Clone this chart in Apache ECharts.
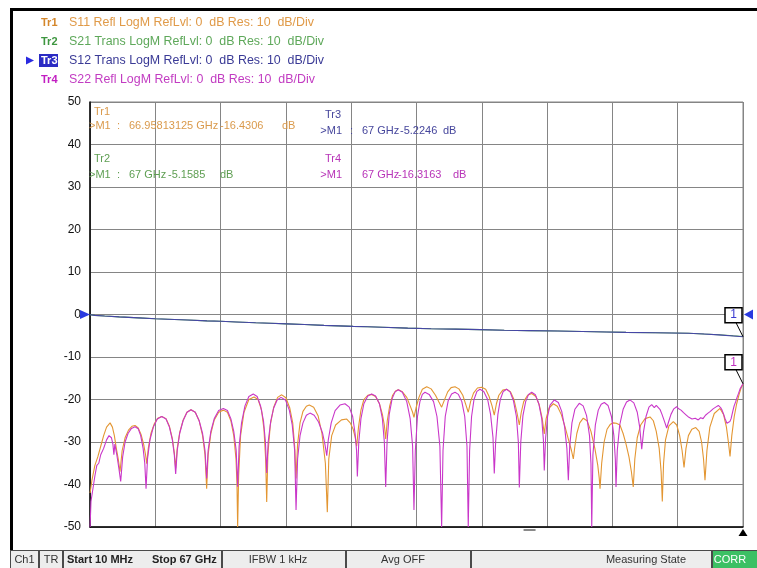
<!DOCTYPE html>
<html><head><meta charset="utf-8">
<script src="https://cdn.jsdelivr.net/npm/echarts@6/dist/echarts.min.js"></script>
<style>html,body{margin:0;padding:0;background:#fff}#c{width:757px;height:568px}</style>
</head><body><div id="c"></div>
<script>
// ---- axis ----
const freqMin = 0, freqMax = 67, freqStep = 6.7;
const dbMin = -50, dbMax = 50, dbStep = 10;

// ---- header lines ----
const traceIds = ['Tr1', 'Tr2', 'Tr3', 'Tr4'];
const traceDesc = [
  'S11 Refl LogM RefLvl: 0  dB Res: 10  dB/Div',
  'S21 Trans LogM RefLvl: 0  dB Res: 10  dB/Div',
  'S12 Trans LogM RefLvl: 0  dB Res: 10  dB/Div',
  'S22 Refl LogM RefLvl: 0  dB Res: 10  dB/Div'
];
// ---- marker readouts ----
const markerFreq = ['66.95813125 GHz', '67 GHz', '67 GHz', '67 GHz'];
const markerVal = ['-16.4306', '-5.1585', '-5.2246', '-16.3163'];
// ---- status bar ----
const statusItems = ['Ch1', 'TR', 'Start 10 MHz', 'Stop 67 GHz', 'IFBW 1 kHz', 'Avg OFF', 'Measuring State', 'CORR'];
const gateFreq = [45.1];

// ---- traces [GHz, dB] ----
const s12 = [[0.01,-0.05],[0.5,-0.2],[1.5,-0.35],[3,-0.55],[5,-0.8],[6.7,-1.0],[8,-1.1],[10,-1.3],[12,-1.5],[13.4,-1.6],[15,-1.75],[17,-1.95],[18.5,-2.05],[20.2,-2.2],[22,-2.35],[24,-2.55],[27,-2.8],[28.5,-2.9],[30,-3.0],[32.6,-3.2],[35,-3.35],[37.5,-3.45],[40,-3.55],[42.5,-3.7],[45,-3.8],[48,-3.9],[50.5,-4.0],[53,-4.1],[55,-4.2],[58,-4.3],[61.4,-4.4],[63,-4.6],[64.5,-4.8],[66,-5.05],[67,-5.22]];
const s21 = [[0.01,-0.05],[0.5,-0.2],[1.5,-0.35],[3,-0.55],[5,-0.8],[6.7,-1.0],[8,-1.1],[10,-1.3],[12,-1.5],[13.4,-1.6],[15,-1.75],[17,-1.95],[18.5,-2.05],[20.2,-2.2],[22,-2.35],[24,-2.55],[27,-2.8],[28.5,-2.9],[30,-3.0],[32.6,-3.2],[35,-3.35],[37.5,-3.45],[40,-3.55],[42.5,-3.7],[45,-3.8],[48,-3.9],[50.5,-4.0],[53,-4.1],[55,-4.2],[58,-4.3],[61.4,-4.4],[63,-4.6],[64.5,-4.75],[66,-5.0],[67,-5.16]];
const s11 = [[0.01,-42],[0.2,-39],[0.5,-35.5],[0.8,-33.5],[1.1,-31],[1.4,-28.5],[1.7,-26.5],[2.06,-25.5],[2.3,-26.5],[2.5,-28.5],[2.7,-31.5],[2.9,-34],[3.08,-37],
[3.3,-32],[3.6,-29],[3.95,-27.2],[4.3,-26.3],[4.62,-26.1],[4.95,-26.7],[5.25,-28.3],[5.5,-30.5],[5.7,-33],[5.82,-35.1],
[5.98,-31.5],[6.25,-28],[6.6,-25.7],[6.95,-24.4],[7.36,-24],[7.8,-24.5],[8.15,-26.3],[8.45,-29.2],[8.65,-32.5],[8.79,-36.2],
[8.95,-31.5],[9.2,-27.8],[9.55,-24.9],[9.95,-23],[10.36,-22.4],[10.8,-23],[11.2,-25],[11.55,-28.5],[11.8,-33],[11.97,-41],
[12.12,-33],[12.4,-28],[12.75,-24.8],[13.2,-23],[13.68,-22.5],[14.1,-23],[14.45,-25],[14.75,-28.5],[14.98,-34],[15.08,-40],[15.15,-50],
[15.25,-38],[15.45,-28.5],[15.8,-23],[16.3,-20],[16.83,-19.4],[17.25,-20],[17.6,-22.5],[17.85,-27],[18.02,-34],[18.13,-44.1],
[18.25,-33],[18.5,-26],[18.85,-21.8],[19.25,-19.5],[19.67,-18.9],[20.1,-19.6],[20.5,-22],[20.8,-25.5],[21.0,-31],[21.14,-38.6],
[21.3,-30.5],[21.55,-25.5],[21.85,-22.8],[22.2,-21.6],[22.5,-21.3],[22.95,-21.8],[23.4,-23.8],[23.8,-28],[24.15,-35],[24.35,-46.5],
[24.5,-34],[24.8,-28.5],[25.2,-26],[25.8,-24.8],[26.34,-24.6],[26.7,-25.5],[27.0,-27],[27.2,-28.8],[27.36,-31],
[27.55,-26.5],[27.8,-22.5],[28.1,-20],[28.5,-19],[28.9,-18.8],[29.3,-19.3],[29.7,-21],[30.0,-23.5],[30.2,-26],[30.34,-29.3],
[30.5,-25],[30.75,-21.5],[31.05,-19],[31.35,-18],[31.63,-17.7],[32.05,-18.2],[32.5,-19.5],[32.85,-21.5],[33.1,-23],[33.24,-24.2],
[33.45,-22],[33.75,-19.5],[34.1,-17.6],[34.55,-17],[35.0,-17.5],[35.45,-19],[35.8,-20.6],[36.08,-21.8],
[36.35,-20.2],[36.7,-18.2],[37.05,-17.2],[37.45,-17],[37.85,-17.5],[38.25,-19],[38.6,-21.5],[38.81,-23],
[39.05,-20.5],[39.35,-18.5],[39.75,-17.3],[40.19,-17.1],[40.6,-17.6],[40.95,-19.3],[41.25,-21.5],[41.48,-23.7],
[41.7,-21],[41.95,-19],[42.35,-17.8],[42.75,-17.6],[43.15,-18.2],[43.5,-20],[43.8,-23],[44.05,-26],
[44.25,-23],[44.5,-20.5],[44.9,-19],[45.32,-18.6],[45.75,-19.3],[46.1,-21.3],[46.4,-24.5],[46.61,-28.1],
[46.8,-24.5],[47.1,-22],[47.54,-21],[47.95,-21.6],[48.35,-23.5],[48.75,-26.5],[49.1,-29.5],[49.4,-32],[49.59,-34],
[49.75,-31],[49.95,-28],[50.25,-25.5],[50.61,-24.4],[51.0,-25],[51.4,-27.5],[51.8,-31.5],[52.1,-35.5],[52.25,-38.5],[52.33,-41],
[52.5,-35],[52.75,-30],[53.05,-27],[53.4,-25.8],[53.69,-25.5],[54.0,-25.6],[54.37,-26],[54.7,-28],[55.0,-30.5],[55.3,-33.5],[55.55,-37],[55.74,-40.6],
[55.9,-34],[56.15,-29],[56.5,-26],[56.95,-24.5],[57.46,-24.1],[57.8,-25],[58.1,-27.5],[58.4,-31.5],[58.6,-37],[58.72,-44],
[58.85,-35],[59.05,-29.5],[59.4,-26.2],[59.85,-25.2],[60.2,-26],[60.5,-28.5],[60.75,-32],[60.95,-36],
[61.15,-31.5],[61.4,-28.5],[61.75,-27],[62.15,-26.6],[62.5,-27.5],[62.75,-30],[62.95,-34],[63.1,-39],
[63.3,-32],[63.6,-26.5],[64.05,-23.3],[64.64,-22.1],[65.0,-23.5],[65.3,-26.5],[65.5,-30],[65.67,-33.4],
[65.85,-28.5],[66.1,-24],[66.35,-21],[66.6,-18.8],[66.8,-17.3],[67,-16.4]];
const s22 = [[0.01,-50],[0.1,-44],[0.3,-41],[0.5,-38],[0.7,-35.5],[0.9,-35],[1.1,-33],[1.4,-31.5],[1.7,-29.5],[1.95,-28.5],[2.2,-29],[2.35,-30.5],[2.45,-33],[2.55,-30.5],[2.75,-33],[2.95,-36],[3.15,-39.3],
[3.35,-33.5],[3.6,-30],[3.9,-28],[4.25,-26.8],[4.62,-26.4],[4.95,-26.9],[5.2,-28.5],[5.45,-31.5],[5.62,-35],[5.75,-41],
[5.9,-34],[6.15,-29.5],[6.5,-26.5],[6.9,-24.6],[7.36,-24],[7.8,-24.6],[8.15,-26.5],[8.45,-29.5],[8.65,-33],[8.79,-37.5],
[8.95,-32],[9.2,-28],[9.55,-25],[9.95,-23],[10.36,-22.4],[10.8,-23],[11.2,-25],[11.55,-28],[11.8,-32],[11.97,-38.6],
[12.12,-32],[12.4,-27.5],[12.75,-24.5],[13.2,-22.6],[13.68,-22.1],[14.1,-22.6],[14.45,-24.5],[14.75,-27.5],[15.0,-32],[15.15,-40.5],
[15.3,-31],[15.55,-25.5],[15.9,-21.5],[16.3,-19.3],[16.75,-18.7],[17.15,-19.3],[17.5,-21.5],[17.8,-25],[18.0,-30],[18.13,-37.3],
[18.28,-30],[18.55,-25],[18.85,-22],[19.2,-20.1],[19.6,-19.5],[20.05,-20.1],[20.45,-22.5],[20.75,-26],[21.0,-32],[21.14,-46],
[21.3,-34],[21.55,-28.5],[21.85,-25.5],[22.2,-23.7],[22.57,-23.2],[23.0,-23.7],[23.45,-25.3],[23.85,-27.8],[24.1,-30.5],[24.29,-33.2],
[24.45,-29.5],[24.75,-25.5],[25.15,-22.6],[25.65,-21.3],[26.16,-21],[26.6,-21.8],[26.95,-24],[27.2,-28],[27.35,-32],[27.43,-38.1],
[27.58,-30],[27.8,-24.5],[28.1,-21],[28.5,-19.2],[28.9,-18.7],[29.3,-19.2],[29.7,-21],[30.0,-24.5],[30.2,-30],[30.34,-40.6],
[30.48,-30],[30.7,-23.5],[31.0,-19.8],[31.3,-18.2],[31.63,-17.7],[32.05,-18.3],[32.5,-20.5],[32.85,-24.5],[33.1,-31],[33.24,-46],
[33.38,-32],[33.6,-24],[33.85,-20.5],[34.1,-18.8],[34.37,-18.3],[34.8,-18.8],[35.25,-20.5],[35.6,-24],[35.9,-31],[36.08,-50],
[36.22,-32],[36.45,-24],[36.75,-20.3],[37.1,-18.7],[37.45,-18.3],[37.8,-18.8],[38.15,-20.5],[38.45,-24],[38.68,-31],[38.81,-50],
[38.95,-32],[39.15,-24],[39.4,-20],[39.7,-18.1],[40.01,-17.6],[40.4,-18.1],[40.8,-20],[41.1,-23.5],[41.35,-29],[41.48,-37.4],
[41.62,-30],[41.85,-23.5],[42.1,-20],[42.4,-18.1],[42.75,-17.6],[43.1,-18.2],[43.45,-20.3],[43.75,-24],[43.95,-30],[44.05,-40.7],
[44.2,-30],[44.42,-23.8],[44.7,-20.5],[45.0,-18.8],[45.32,-18.3],[45.7,-18.9],[46.05,-21],[46.35,-24.5],[46.52,-29.5],[46.61,-36.7],
[46.75,-29],[46.95,-24],[47.2,-21.3],[47.64,-20.1],[48.05,-20.7],[48.4,-22.8],[48.7,-26.5],[48.93,-31.5],[49.08,-39],
[49.22,-31],[49.45,-25.5],[49.75,-22.3],[50.2,-20.9],[50.6,-21.5],[50.95,-23.8],[51.25,-28.5],[51.4,-35],[51.48,-50],
[51.6,-33],[51.85,-26],[52.15,-22.5],[52.45,-21.1],[52.77,-20.7],[53.15,-21.4],[53.5,-24],[53.75,-28.5],[53.9,-34],[53.97,-40.6],
[54.1,-32],[54.35,-26],[54.7,-22.3],[55.05,-20.6],[55.4,-20.1],[55.8,-20.8],[56.15,-23],[56.4,-26.5],[56.61,-31.7],
[56.8,-27.5],[57.05,-24],[57.35,-21.8],[57.63,-21.2],[57.9,-21.9],[58.1,-21.4],[58.28,-21.8],[58.5,-22.4],[58.69,-23.5],[58.95,-25.2],[59.17,-26.7],[59.4,-25],[59.61,-23.5],[59.9,-22.2],[60.19,-21.7],[60.4,-22.2],[60.64,-22.5],[60.9,-23.1],[61.15,-23.6],[61.45,-24.2],[61.77,-24.6],[62.1,-24.4],[62.41,-24.8],[62.65,-24.3],[62.9,-24.5],[63.15,-23.7],[63.41,-23.2],[63.65,-22.8],[63.93,-22.2],[64.2,-21.8],[64.47,-21.4],[64.7,-21.9],[64.85,-22.5],[65.0,-23.4],[65.16,-24.5],[65.35,-25.6],[65.5,-26],[65.65,-25.2],[65.78,-24.5],[65.95,-22.8],[66.09,-21.5],[66.25,-20.5],[66.39,-19.5],[66.55,-18.5],[66.7,-17.5],[66.85,-16.9],[67,-16.3]];

const C_OR = '#E39632', C_GR = '#4E9E46', C_BL = '#4646A6', C_MG = '#C936C9';
const FONT = '"Liberation Sans", Arial, sans-serif';

const chart = echarts.init(document.getElementById('c'), null, {renderer: 'canvas'});
function line(name, data, color, z) {
  return {name, type: 'line', data, showSymbol: false, symbol: 'none', animation: false,
    sampling: 'none', z, lineStyle: {color, width: 1.1}, itemStyle: {color}};
}
chart.setOption({
  animation: false,
  backgroundColor: '#fff',
  grid: {left: 90, right: 14, top: 102, bottom: 41, show: true, borderColor: '#858585', borderWidth: 1, backgroundColor: '#fff'},
  xAxis: {type: 'value', min: freqMin, max: freqMax, interval: freqStep,
    axisLabel: {show: false}, axisTick: {show: false},
    axisLine: {onZero: false, lineStyle: {color: '#000', width: 1.5}},
    splitLine: {lineStyle: {color: '#858585', width: 1}}},
  yAxis: {type: 'value', min: dbMin, max: dbMax, interval: dbStep,
    axisTick: {show: false},
    axisLine: {onZero: false, lineStyle: {color: '#000', width: 1.5}},
    axisLabel: {color: '#111', fontSize: 12, fontFamily: FONT, margin: 9},
    splitLine: {lineStyle: {color: '#858585', width: 1}}},
  series: [line('S21', s21, C_GR, 2), line('S12', s12, C_BL, 3), line('S11', s11, C_OR, 4), line('S22', s22, C_MG, 5)]
});

const px = p => chart.convertToPixel({gridIndex: 0}, p);
const g = [];
function txt(x, y, text, fill, opts, z) {
  g.push({type: 'text', x, y, z: z || 50, style: Object.assign({text, fill, font: '11px ' + FONT, verticalAlign: 'middle', align: 'left'}, opts || {})});
}
// frame
g.push({type: 'rect', shape: {x: 10, y: 8, width: 747, height: 3}, style: {fill: '#000'}, z: 40});
g.push({type: 'rect', shape: {x: 10, y: 8, width: 3, height: 545}, style: {fill: '#000'}, z: 40});
// header
const hdrY = [22.5, 41.5, 60.5, 79.5];
const hdrIdCol = ['#D4862A', '#3E9640', '#fff', '#C21EC2'];
const hdrTxtCol = ['#E09A48', '#5EA85A', '#3A3A96', '#C23CC2'];
g.push({type: 'polygon', shape: {points: [[26, 56.5], [34, 60.5], [26, 64.5]]}, style: {fill: '#2A2AE0'}, z: 50});
g.push({type: 'rect', shape: {x: 39, y: 54, width: 19, height: 13}, style: {fill: '#2B2BC4'}, z: 49});
traceIds.forEach((id, i) => {
  txt(41, hdrY[i], id, hdrIdCol[i], {font: 'bold 11px ' + FONT});
  txt(69, hdrY[i], traceDesc[i], hdrTxtCol[i], {font: '12.4px ' + FONT});
});
// marker readouts
const annCol = ['#DA9A4C', '#5E9E52', '#46469C', '#B834B8'];
[[0, 112, 126], [1, 159, 175]].forEach(([i, y1, y2]) => {
  txt(94, y1, traceIds[i], annCol[i]);
  txt(89, y2, '>M1', annCol[i]);
  txt(117, y2, ':', annCol[i]);
  txt(129, y2, markerFreq[i], annCol[i]);
  txt(i === 0 ? 220 : 168, y2, markerVal[i], annCol[i]);
  txt(i === 0 ? 282 : 220, y2, 'dB', annCol[i]);
});
[[2, 115, 131], [3, 159, 175]].forEach(([i, y1, y2]) => {
  txt(341, y1, traceIds[i], annCol[i], {align: 'right'});
  txt(342, y2, '>M1', annCol[i], {align: 'right'});
  if (i === 2) txt(350, y2, ':', annCol[i]);
  txt(362, y2, markerFreq[i], annCol[i]);
  txt(i === 2 ? 400 : 398, y2, markerVal[i], annCol[i]);
  txt(i === 2 ? 443 : 453, y2, 'dB', annCol[i]);
});
// reference-level triangles
const l0 = px([freqMin, 0]), r0 = px([freqMax, 0]);
g.push({type: 'polygon', shape: {points: [[l0[0] - 10, l0[1] - 4.5], [l0[0], l0[1]], [l0[0] - 10, l0[1] + 4.5]]}, style: {fill: '#2A3AE0'}, z: 60});
g.push({type: 'polygon', shape: {points: [[r0[0] + 1, r0[1]], [r0[0] + 10, r0[1] - 5], [r0[0] + 10, r0[1] + 5]]}, style: {fill: '#2A3AE0'}, z: 60});
// marker flags at the end of Tr3 and Tr4
[[s12[s12.length - 1], '#3A3AD0'], [s22[s22.length - 1], '#C030C0']].forEach(([pt, col]) => {
  const p = px(pt);
  g.push({type: 'line', shape: {x1: p[0] - 7, y1: p[1] - 14, x2: p[0], y2: p[1]}, style: {stroke: '#000', lineWidth: 1}, z: 60});
  g.push({type: 'rect', shape: {x: p[0] - 18, y: p[1] - 29, width: 17, height: 15}, style: {fill: '#fff', stroke: '#000', lineWidth: 1.5}, z: 61});
  txt(p[0] - 9.5, p[1] - 21.5, '1', col, {align: 'center', font: '12px ' + FONT}, 62);
});
// bottom triangle and gate marker
const b = px([freqMax, dbMin]);
g.push({type: 'polygon', shape: {points: [[b[0], b[1] + 2], [b[0] - 4.5, b[1] + 9], [b[0] + 4.5, b[1] + 9]]}, style: {fill: '#000'}, z: 60});
gateFreq.forEach(f => {
  const q = px([f, dbMin]);
  g.push({type: 'rect', shape: {x: q[0] - 6, y: q[1] + 2, width: 12, height: 2}, style: {fill: '#8a8a8a'}, z: 60});
});
// status bar
const cellX = [10, 39, 63, 222, 346, 471, 712, 757];
g.push({type: 'rect', shape: {x: 10, y: 550, width: 747, height: 18}, style: {fill: '#4a4a4a'}, z: 40});
for (let i = 0; i < cellX.length - 1; i++) {
  const last = i === cellX.length - 2;
  g.push({type: 'rect', shape: {x: cellX[i] + 1, y: 551, width: cellX[i + 1] - cellX[i] - (last ? 1 : 2), height: 17},
    style: {fill: last ? '#3CC064' : '#EDEDED'}, z: 41});
}
const SB = '11px "Liberation Sans Narrow", "Liberation Sans", Arial, sans-serif';
const SBB = 'bold 11px "Liberation Sans Narrow", "Liberation Sans", Arial, sans-serif';
txt(24.5, 560, statusItems[0], '#333', {align: 'center', font: SB});
txt(51, 560, statusItems[1], '#333', {align: 'center', font: SB});
txt(67, 560, statusItems[2], '#222', {font: SBB});
txt(152, 560, statusItems[3], '#222', {font: SBB});
txt(278, 560, statusItems[4], '#333', {align: 'center', font: SB});
txt(403, 560, statusItems[5], '#333', {align: 'center', font: SB});
txt(686, 560, statusItems[6], '#333', {align: 'right', font: SB});
txt(730, 560, statusItems[7], '#fff', {align: 'center', font: SB});

chart.setOption({graphic: g});
</script></body></html>
